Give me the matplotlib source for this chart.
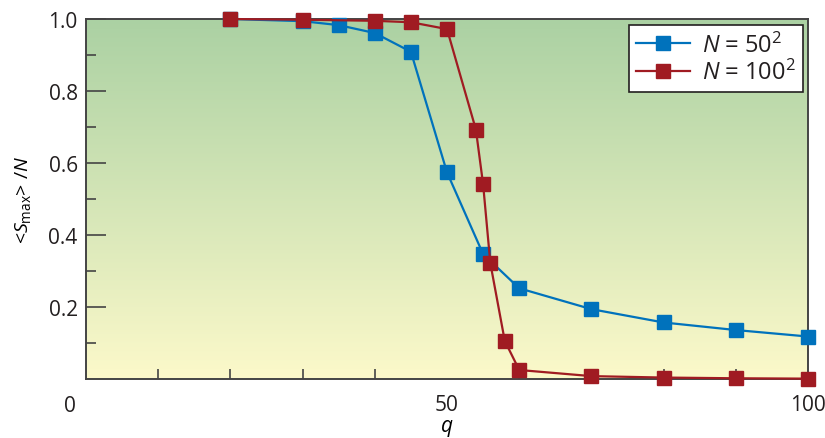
import numpy as np
import matplotlib
matplotlib.use('Agg')
import matplotlib.pyplot as plt
from matplotlib.ticker import FixedLocator
from matplotlib.transforms import blended_transform_factory

# data
q_50 = [20, 30, 35, 40, 45, 50, 55, 60, 70, 80, 90, 100]
s_50 = [1.0, 0.994, 0.983, 0.961, 0.909, 0.574, 0.347, 0.252, 0.194, 0.157, 0.136, 0.118]
q_100 = [20, 30, 40, 45, 50, 54, 55, 56, 58, 60, 70, 80, 90, 100]
s_100 = [1.0, 0.998, 0.995, 0.991, 0.972, 0.693, 0.541, 0.322, 0.106, 0.025, 0.008, 0.004, 0.002, 0.001]
labels = [r'$N$ = 50$^2$', r'$N$ = 100$^2$']

blue = '#0072BC'
red = '#A01B22'
txt = '#231F20'

plt.rcParams['font.family'] = ['Open Sans', 'DejaVu Sans']
plt.rcParams['mathtext.fontset'] = 'custom'
plt.rcParams['mathtext.rm'] = 'Open Sans'
plt.rcParams['mathtext.it'] = 'Open Sans:italic'
plt.rcParams['text.color'] = txt

fig = plt.figure(figsize=(8.25, 4.39), dpi=100)
ax = fig.add_axes([86 / 825, 1 - 380 / 439, 722 / 825, 360 / 439])

# green-to-yellow background
top = np.array([0xAB, 0xD1, 0xA3]) / 255
bot = np.array([0xFC, 0xF9, 0xCA]) / 255
t = np.linspace(0, 1, 256)[:, None]
grad = (bot * (1 - t) + top * t)[:, None, :]
ax.imshow(grad, extent=[0, 100, 0, 1], origin='lower', aspect='auto', zorder=0)

ax.plot(q_50, s_50, color=blue, lw=1.6, marker='s', ms=10, mec=blue, label=labels[0],
        zorder=3, clip_on=False)
ax.plot(q_100, s_100, color=red, lw=1.6, marker='s', ms=10, mec=red, label=labels[1],
        zorder=4, clip_on=False)

ax.set_xlim(0, 100)
ax.set_ylim(0, 1.0)

ax.xaxis.set_major_locator(FixedLocator([50, 100]))
ax.xaxis.set_minor_locator(FixedLocator([10, 20, 30, 40, 50, 60, 70, 80, 90]))
ax.set_xticklabels(['50', '100'])
ax.yaxis.set_major_locator(FixedLocator([0.2, 0.4, 0.6, 0.8, 1.0]))
ax.yaxis.set_minor_locator(FixedLocator([0.1, 0.3, 0.5, 0.7, 0.9]))
ax.set_yticklabels(['0.2', '0.4', '0.6', '0.8', '1.0'])

ax.tick_params(axis='x', which='major', direction='in', length=0, pad=11,
               labelsize=15, labelcolor=txt)
ax.tick_params(axis='x', which='minor', direction='in', length=7.5, width=1.2, color='#444444')
ax.tick_params(axis='y', which='major', direction='in', length=14.5, width=1.2,
               color='#444444', pad=6, labelsize=15, labelcolor=txt)
ax.tick_params(axis='y', which='minor', direction='in', length=7.5, width=1.2, color='#444444')

for s in ax.spines.values():
    s.set_color('#444444')
    s.set_linewidth(1.4)
    s.set_zorder(2)

# shared origin label
tr = blended_transform_factory(ax.transData, ax.transAxes)
ax.text(-2.2, -0.075, '0', transform=tr, ha='center', va='center', fontsize=15, color=txt)

ax.set_xlabel(r'$q$', fontsize=15, labelpad=1)
ax.set_ylabel(r'<$S_{\rm max}$> /$N$', fontsize=14, labelpad=11)

leg = ax.legend(loc='upper right', fontsize=17, handlelength=2.3, handletextpad=0.5,
                borderpad=0.3, labelspacing=0.1, borderaxespad=0, fancybox=False,
                framealpha=1, edgecolor='#231F20', bbox_to_anchor=(0.993, 0.983))
leg.get_frame().set_linewidth(1.2)
leg.set_zorder(5)

fig.savefig('out.png', dpi=100)
